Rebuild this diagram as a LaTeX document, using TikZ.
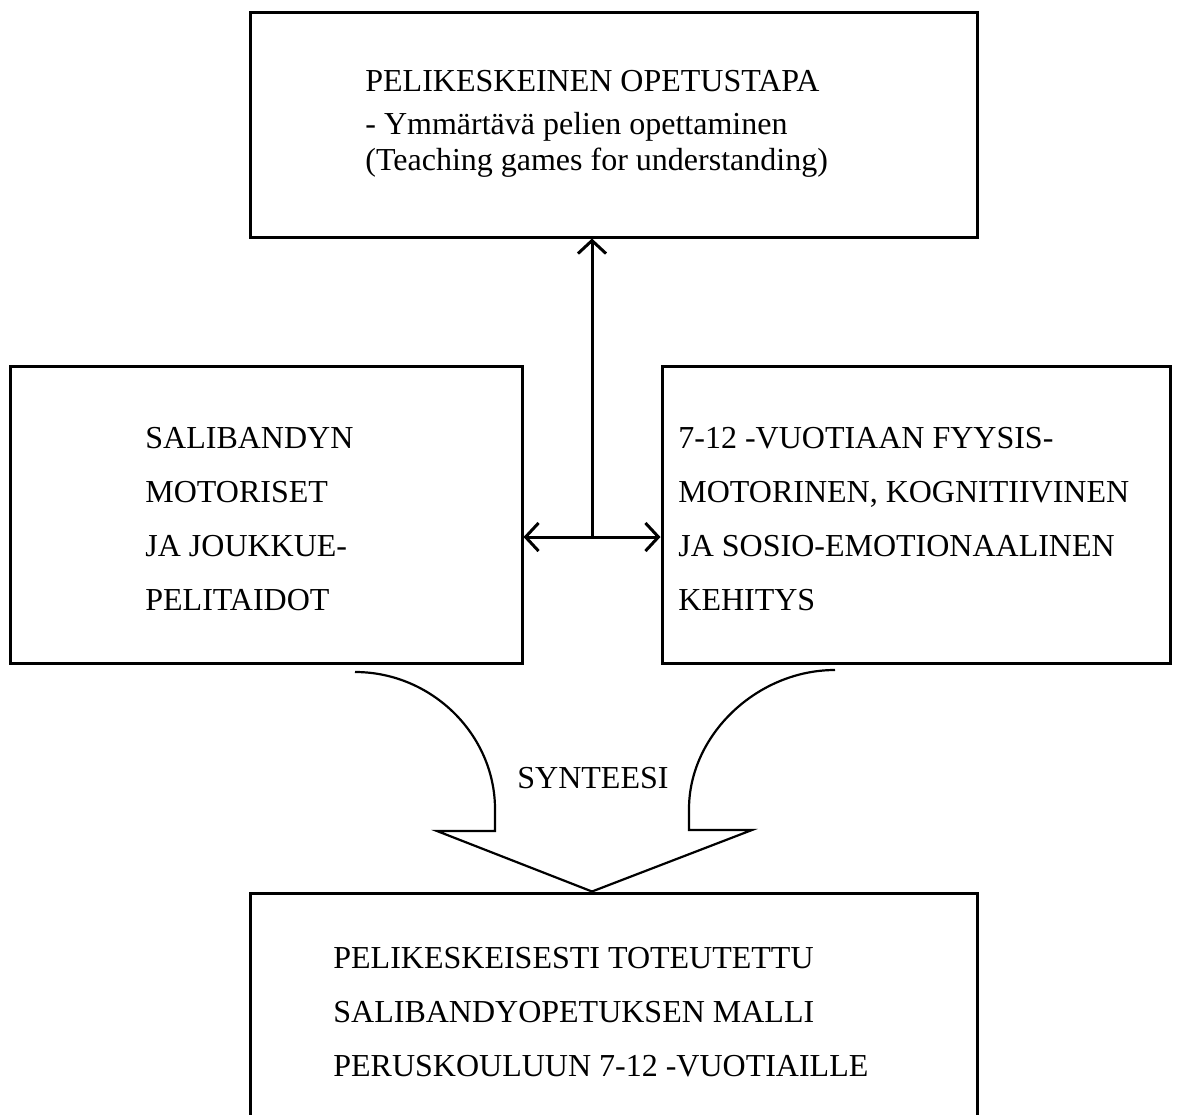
\documentclass[tikz,border=0pt]{standalone}
\usepackage{fontspec}
\setmainfont{Liberation Serif}
\usetikzlibrary{arrows.meta}
\begin{document}
\begin{tikzpicture}[x=0.5pt,y=-0.5pt,
  box/.style={draw, line width=1.5pt, rectangle, inner sep=0pt},
  txt/.style={anchor=north west, inner sep=0pt, align=left,
    font=\fontsize{16}{27}\selectfont},
  barb/.tip={Straight Barb[length=6.5pt,width=14pt,line width=1.5pt]},
  link/.style={line width=1.5pt, barb-barb},
  bigarrow/.style={line width=1.1pt, line join=miter}]
\clip (0,0) rectangle (1180,1115);
\fill[white] (0,0) rectangle (1180,1115);

% boxes
\node[box, minimum width=363.5pt, minimum height=112.5pt] (tbox) at (613.5,124.5) {};
\node[box, minimum width=256pt, minimum height=148.5pt] (lbox) at (266,514.5) {};
\node[box, minimum width=254pt, minimum height=148.5pt] (rbox) at (916,514.5) {};
\node[box, minimum width=363.5pt, minimum height=123.5pt] (bbox) at (613.5,1016.5) {};

% box texts
\node[txt, font=\fontsize{16}{18}\selectfont] (ttxt) at (365,70)
  {PELIKESKEINEN OPETUSTAPA\\[3.5pt]- Ymmärtävä pelien opettaminen\\(Teaching games for understanding)};
\node[txt] (ltxt) at (145,427) {SALIBANDYN\\MOTORISET\\JA JOUKKUE-\\PELITAIDOT};
\node[txt] (rtxt) at (678,427) {7-12 -VUOTIAAN FYYSIS-\\MOTORINEN, KOGNITIIVINEN\\JA SOSIO-EMOTIONAALINEN\\KEHITYS};
\node[txt] (btxt) at (333,947) {PELIKESKEISESTI TOTEUTETTU\\SALIBANDYOPETUKSEN MALLI\\PERUSKOULUUN 7-12 -VUOTIAILLE};

% connectors between the upper boxes
\coordinate (hub) at (592,537);
\draw[link] (hub -| lbox.east) -- (hub -| rbox.west);
\draw[line width=1.5pt, -barb] (hub) -- (hub |- tbox.south);

% synthesis arrow
\coordinate (tip) at (bbox.north -| hub);
\draw[bigarrow] (355,672) .. controls (432,672) and (495,735) .. (495,809)
  -- (495,831) -- (437,831) -- (tip) -- (752,830) -- (689,830) -- (689,809)
  .. controls (689,735) and (757,670) .. (835,670);
\node[font=\fontsize{16}{27}\selectfont, inner sep=0pt] (synt) at (593,778) {SYNTEESI};
\end{tikzpicture}
\end{document}
